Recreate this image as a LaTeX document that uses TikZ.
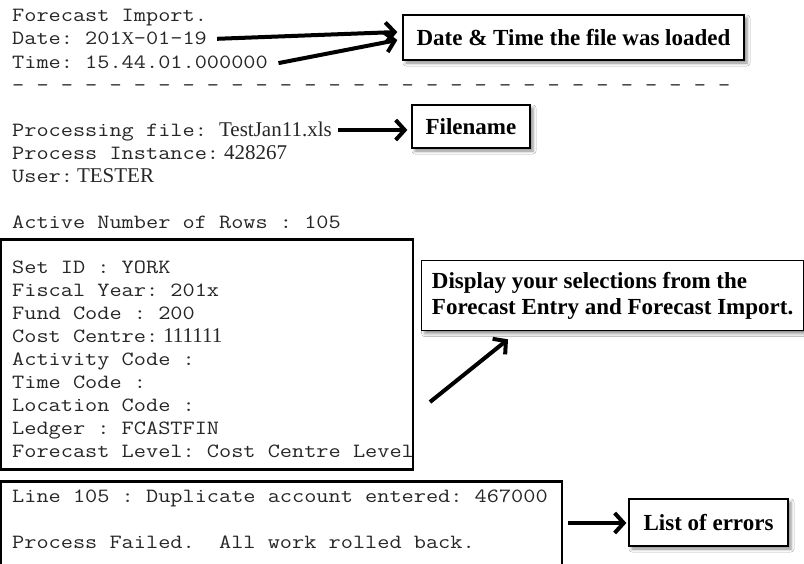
\documentclass[tikz,border=0pt]{standalone}
\usepackage{fontspec}
\setmainfont{Liberation Serif}
\newfontfamily\logfont[FakeStretch=1.17]{Latin Modern Mono}
\usetikzlibrary{arrows.meta,shadows.blur}

% serif fragments printed inside the log lines
\newcommand\rmpart[1]{{\rmfamily\fontsize{21}{23.3}\selectfont #1}}

\tikzset{
  logline/.style={anchor=base west, inner sep=0pt, text=black!85,
    font=\logfont\fontsize{20.2}{23.3}\selectfont\frenchspacing},
  logbox/.style={draw, line width=2.7pt},
  callout/.style={draw, line width=1.3pt, fill=white, inner sep=0pt,
    font=\bfseries\fontsize{23}{26}\selectfont,
    blur shadow={shadow xshift=3pt, shadow yshift=-3pt,
      shadow blur radius=3pt, shadow opacity=45}},
  pointer/.style={line width=4pt, -{Straight Barb[length=9pt,width=20pt]}},
}

\begin{document}
\begin{tikzpicture}[x=1pt,y=-1pt]
\useasboundingbox (0,0) rectangle (804,563);
\clip (0,0) rectangle (804,563);
\fill[white] (0,0) rectangle (804,563);

% header of the import log
\node[logline] (title) at (12,21.5) {Forecast Import.};
\node[logline] (date) at (12,44.8) {Date: 201\makebox[0.6em]{\rmfamily\fontsize{18}{20}\selectfont X}-01-19};
\node[logline] (time) at (12,68.1) {Time: 15.44.01.000000};
\node[logline] (rule) at (12,91.4) {- - - - - - - - - - - - - - - - - - - - - - - - - - - - - -};

\node[logline] (file) at (12,136.5) {Processing file: \rmpart{TestJan11.xls}};
\node[logline] (instance) at (12,159.5) {Process Instance:\kern5pt\rmpart{428267}};
\node[logline] (user) at (12,182.5) {User:\kern4pt\rmpart{TESTER}};
\node[logline] (rows) at (12,228.5) {Active Number of Rows : 105};

% run selections
\draw[logbox] (1,239.5) rectangle (413,469.5);
\node[logline] (setid) at (12,273) {Set ID : YORK};
\node[logline] (fiscal) at (12,296) {Fiscal Year: 201x};
\node[logline] (fund) at (12,319) {Fund Code : 200};
\node[logline] (cost) at (12,342) {Cost Centre:\kern5pt\rmpart{111111}};
\node[logline] (activity) at (12,365) {Activity Code :};
\node[logline] (timecode) at (12,388) {Time Code :};
\node[logline] (location) at (12,411) {Location Code :};
\node[logline] (ledger) at (12,434) {Ledger : FCASTFIN};
\node[logline] (level) at (12,457) {Forecast Level: Cost Centre Level};

% error list
\draw[logbox] (1,481.5) rectangle (562,580);
\node[logline] (err) at (12,502) {Line 105 : Duplicate account entered: 467000};
\node[logline] (failed) at (12,548) {Process Failed.\ \ All work rolled back.};

% explanatory callouts
\node[callout, minimum width=341pt, minimum height=45pt] (datebox) at (573.5,37.5) {Date \& Time the file was loaded};
\node[callout, minimum width=118pt, minimum height=43pt] (filebox) at (471,126.5) {Filename};
\node[callout, anchor=north west, minimum width=382pt, minimum height=70pt,
  align=left] (selbox) at (421,260)
  {Display your selections from the\\Forecast Entry and Forecast Import.};
\node[callout, minimum width=159pt, minimum height=47pt] (errbox) at (708.5,522.5) {List of errors};

% pointers
\coordinate (selfrom) at (430,402);
\coordinate (errfrom) at (568,523);
\draw[pointer] ([shift={(10,-6)}]date.base east) -- ([shift={(-5,-5.5)}]datebox.west);
\draw[pointer] ([shift={(10.5,-5)}]time.base east) -- ([shift={(-5,2.5)}]datebox.west);
\draw[pointer] ([shift={(6,-6.5)}]file.base east) -- ([shift={(-4,3.5)}]filebox.west);
\draw[pointer] (selfrom) -- ([shift={(87,8)}]selbox.south west);
\draw[pointer] (errfrom) -- ([shift={(-2,0.5)}]errbox.west);
\end{tikzpicture}
\end{document}
